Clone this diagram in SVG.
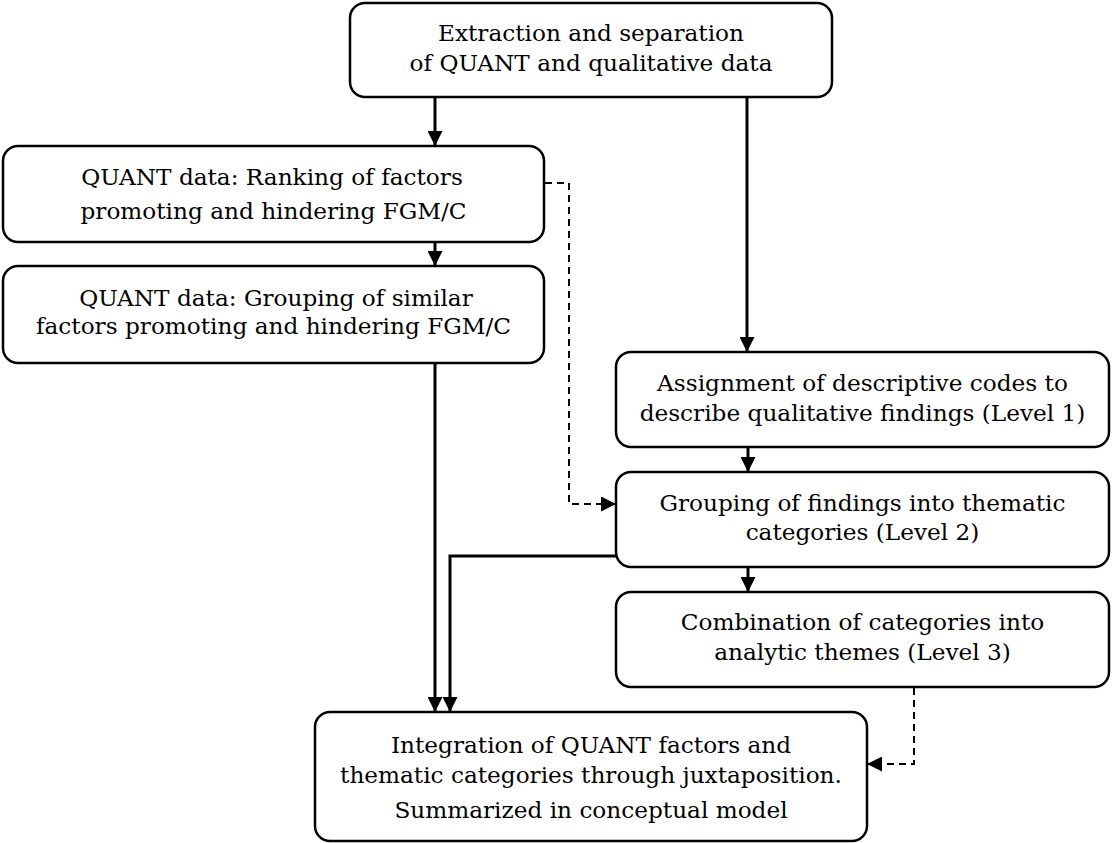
<svg xmlns="http://www.w3.org/2000/svg" width="1112" height="843" viewBox="0 0 1112 843">
<defs>
<style>
.box{fill:#fff;stroke:#000;stroke-width:2.5}
.t{font-family:"DejaVu Serif","Liberation Serif",serif;font-size:23.2px;fill:#000;text-anchor:middle}
.c{fill:none;stroke:#000;stroke-width:3}
.d{fill:none;stroke:#000;stroke-width:2;stroke-dasharray:7,5}
</style>
<marker id="ah" markerUnits="userSpaceOnUse" markerWidth="15" markerHeight="15" refX="15" refY="7.5" orient="auto" viewBox="0 0 15 15">
<path d="M0,0 L15,7.5 L0,15 z" fill="#000"/>
</marker>
</defs>
<rect width="1112" height="843" fill="#fff"/>
<g id="connectors">
<line class="c" x1="435" y1="97" x2="435" y2="146" marker-end="url(#ah)"/>
<line class="c" x1="747" y1="97" x2="747" y2="352" marker-end="url(#ah)"/>
<line class="c" x1="435" y1="242" x2="435" y2="266" marker-end="url(#ah)"/>
<line class="c" x1="435" y1="363" x2="435" y2="712" marker-end="url(#ah)"/>
<polyline class="c" points="616,556 450,556 450,712" marker-end="url(#ah)"/>
<line class="c" x1="748" y1="447" x2="748" y2="472" marker-end="url(#ah)"/>
<line class="c" x1="748" y1="567" x2="748" y2="592" marker-end="url(#ah)"/>
<polyline class="d" points="545,183 569,183 569,504 616,504" marker-end="url(#ah)"/>
<polyline class="d" points="914,688 914,764 867,764" marker-end="url(#ah)"/>
</g>
<g id="n-extraction">
<rect class="box" x="350" y="3" width="482" height="94" rx="15"/>
<text class="t" x="591" y="41">Extraction and separation</text>
<text class="t" x="591" y="71">of QUANT and qualitative data</text>
</g>
<g id="n-ranking">
<rect class="box" x="3" y="146" width="541" height="96" rx="15"/>
<text class="t" x="272" y="185">QUANT data: Ranking of factors</text>
<text class="t" x="273.5" y="219">promoting and hindering FGM/C</text>
</g>
<g id="n-grouping-similar">
<rect class="box" x="3" y="266" width="541" height="97" rx="15"/>
<text class="t" x="276" y="306">QUANT data: Grouping of similar</text>
<text class="t" x="273.5" y="334">factors promoting and hindering FGM/C</text>
</g>
<g id="n-assignment">
<rect class="box" x="616" y="352" width="493" height="95" rx="15"/>
<text class="t" x="862.5" y="391">Assignment of descriptive codes to</text>
<text class="t" x="862.5" y="421">describe qualitative findings (Level 1)</text>
</g>
<g id="n-grouping-findings">
<rect class="box" x="616" y="472" width="493" height="95" rx="15"/>
<text class="t" x="862.5" y="511">Grouping of findings into thematic</text>
<text class="t" x="862.5" y="540">categories (Level 2)</text>
</g>
<g id="n-combination">
<rect class="box" x="616" y="592" width="493" height="95" rx="15"/>
<text class="t" x="862.5" y="630">Combination of categories into</text>
<text class="t" x="862.5" y="660">analytic themes (Level 3)</text>
</g>
<g id="n-integration">
<rect class="box" x="315" y="712" width="552" height="129" rx="15"/>
<text class="t" x="591" y="753">Integration of QUANT factors and</text>
<text class="t" x="591" y="783">thematic categories through juxtaposition.</text>
<text class="t" x="591" y="818">Summarized in conceptual model</text>
</g>
</svg>
